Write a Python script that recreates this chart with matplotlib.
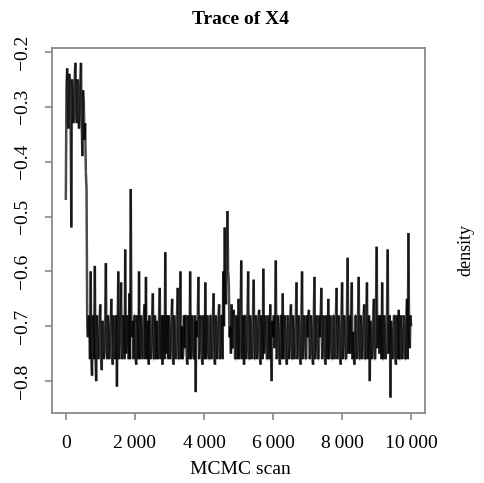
import matplotlib
matplotlib.use("Agg")
import matplotlib.pyplot as plt
from matplotlib.collections import LineCollection
import numpy as np

# MCMC trace of X4, one value every 20 scans.
# "even" lists hold scans 0, 40, 80, ...; "odd" lists hold scans 20, 60, 100, ...
scan_step = 20
burn_in_even = [-0.47, -0.23, -0.34, -0.25, -0.52, -0.27, -0.31, -0.22,
                -0.33, -0.26, -0.32, -0.22, -0.39, -0.29, -0.33, -0.45]
burn_in_odd = [-0.26, -0.33, -0.24, -0.33, -0.25, -0.33, -0.24, -0.32,
               -0.25, -0.34, -0.25, -0.33, -0.27, -0.36, -0.42, -0.70]
stationary_even = [
    -0.72, -0.69, -0.60, -0.79, -0.70, -0.59, -0.80, -0.71, -0.75, -0.66,
    -0.78, -0.70, -0.74, -0.585, -0.76, -0.70, -0.73, -0.65, -0.77, -0.71,
    -0.74, -0.81, -0.60, -0.73, -0.62, -0.75, -0.69, -0.56, -0.74, -0.70,
    -0.64, -0.45, -0.72, -0.76, -0.68, -0.77, -0.71, -0.60, -0.75, -0.70,
    -0.73, -0.66, -0.61, -0.76, -0.77, -0.70, -0.74, -0.64, -0.76, -0.71,
    -0.69, -0.75, -0.63, -0.73, -0.77, -0.68, -0.565, -0.72, -0.76, -0.70,
    -0.74, -0.65, -0.77, -0.71, -0.74, -0.63, -0.76, -0.60, -0.70, -0.75,
    -0.74, -0.68, -0.77, -0.71, -0.60, -0.75, -0.70, -0.76, -0.82, -0.72,
    -0.61, -0.74, -0.69, -0.77, -0.71, -0.62, -0.75, -0.70, -0.76, -0.68,
    -0.74, -0.64, -0.77, -0.70, -0.73, -0.66, -0.75, -0.68, -0.60, -0.52,
    -0.66, -0.49, -0.62, -0.70, -0.66, -0.74, -0.69, -0.76, -0.71, -0.65,
    -0.74, -0.58, -0.72, -0.77, -0.68, -0.74, -0.60, -0.76, -0.70, -0.73,
    -0.615, -0.76, -0.69, -0.74, -0.67, -0.77, -0.71, -0.595, -0.74, -0.69,
    -0.76, -0.70, -0.66, -0.80, -0.72, -0.74, -0.58, -0.75, -0.70, -0.77,
    -0.68, -0.64, -0.75, -0.71, -0.77, -0.69, -0.74, -0.66, -0.76, -0.71,
    -0.73, -0.62, -0.75, -0.70, -0.77, -0.60, -0.73, -0.69, -0.76, -0.72,
    -0.67, -0.75, -0.70, -0.77, -0.61, -0.74, -0.70, -0.76, -0.72, -0.63,
    -0.75, -0.69, -0.77, -0.71, -0.65, -0.74, -0.70, -0.76, -0.68, -0.74,
    -0.63, -0.75, -0.70, -0.77, -0.62, -0.73, -0.69, -0.76, -0.575, -0.72,
    -0.75, -0.62, -0.71, -0.77, -0.68, -0.74, -0.61, -0.76, -0.70, -0.73,
    -0.66, -0.76, -0.62, -0.72, -0.80, -0.70, -0.74, -0.65, -0.76, -0.555,
    -0.72, -0.75, -0.69, -0.62, -0.76, -0.71, -0.74, -0.56, -0.73, -0.83,
    -0.71, -0.75, -0.68, -0.77, -0.70, -0.67, -0.76, -0.71, -0.74, -0.69,
    -0.76, -0.65, -0.53, -0.74, -0.70,
]
stationary_odd = [
    -0.68, -0.76, -0.76, -0.68, -0.76, -0.76, -0.68, -0.76, -0.68, -0.76,
    -0.69, -0.76, -0.68, -0.75, -0.68, -0.76, -0.69, -0.76, -0.68, -0.76,
    -0.68, -0.69, -0.76, -0.68, -0.76, -0.68, -0.76, -0.75, -0.68, -0.76,
    -0.76, -0.70, -0.69, -0.68, -0.76, -0.68, -0.76, -0.76, -0.68, -0.76,
    -0.68, -0.76, -0.75, -0.69, -0.68, -0.76, -0.68, -0.76, -0.68, -0.76,
    -0.76, -0.68, -0.76, -0.68, -0.69, -0.76, -0.75, -0.68, -0.68, -0.76,
    -0.68, -0.76, -0.68, -0.76, -0.68, -0.76, -0.68, -0.76, -0.76, -0.68,
    -0.68, -0.76, -0.68, -0.76, -0.76, -0.68, -0.76, -0.68, -0.69, -0.68,
    -0.76, -0.68, -0.76, -0.68, -0.76, -0.76, -0.68, -0.76, -0.68, -0.76,
    -0.68, -0.76, -0.68, -0.76, -0.68, -0.76, -0.68, -0.76, -0.70, -0.64,
    -0.58, -0.60, -0.72, -0.75, -0.74, -0.67, -0.76, -0.68, -0.76, -0.76,
    -0.68, -0.76, -0.68, -0.68, -0.76, -0.68, -0.76, -0.68, -0.76, -0.68,
    -0.76, -0.68, -0.76, -0.68, -0.76, -0.68, -0.76, -0.75, -0.68, -0.76,
    -0.68, -0.76, -0.75, -0.69, -0.68, -0.68, -0.76, -0.68, -0.76, -0.68,
    -0.76, -0.76, -0.68, -0.76, -0.68, -0.76, -0.68, -0.76, -0.68, -0.76,
    -0.68, -0.76, -0.68, -0.76, -0.68, -0.76, -0.68, -0.76, -0.68, -0.68,
    -0.76, -0.68, -0.76, -0.68, -0.76, -0.68, -0.76, -0.68, -0.68, -0.76,
    -0.68, -0.76, -0.68, -0.76, -0.76, -0.68, -0.76, -0.68, -0.76, -0.68,
    -0.76, -0.68, -0.76, -0.68, -0.76, -0.68, -0.76, -0.68, -0.75, -0.68,
    -0.68, -0.76, -0.76, -0.68, -0.76, -0.68, -0.76, -0.68, -0.76, -0.68,
    -0.76, -0.68, -0.76, -0.68, -0.69, -0.76, -0.68, -0.76, -0.68, -0.74,
    -0.68, -0.68, -0.76, -0.76, -0.68, -0.76, -0.68, -0.75, -0.68, -0.69,
    -0.76, -0.68, -0.76, -0.68, -0.76, -0.76, -0.68, -0.76, -0.68, -0.76,
    -0.68, -0.76, -0.72, -0.68,
]
x_ticks = [0, 2000, 4000, 6000, 8000, 10000]
x_tick_labels = ["0", "2\u2009000", "4\u2009000", "6\u2009000", "8\u2009000", "10\u2009000"]
y_ticks = [-0.8, -0.7, -0.6, -0.5, -0.4, -0.3, -0.2]
y_tick_labels = ["\u22120.8", "\u22120.7", "\u22120.6", "\u22120.5", "\u22120.4", "\u22120.3", "\u22120.2"]


def interleave(even, odd):
    out = []
    for i, v in enumerate(even):
        out.append(v)
        if i < len(odd):
            out.append(odd[i])
    return out


values = np.array(interleave(burn_in_even, burn_in_odd)
                  + interleave(stationary_even, stationary_odd))
scans = np.arange(len(values)) * scan_step

plt.rcParams["font.family"] = ["Liberation Serif", "DejaVu Serif"]

fig = plt.figure(figsize=(4.84, 4.83), dpi=100)
ax = fig.add_axes([52 / 484, 1 - 413 / 483, (425 - 52) / 484, (413 - 48) / 483])

pts = np.column_stack([scans, values])
segs = np.stack([pts[:-1], pts[1:]], axis=1)
lc = LineCollection(segs, colors="black", linewidths=1.8, alpha=0.7,
                    capstyle="butt", snap=False, antialiased=True)
ax.add_collection(lc)

ax.set_xlim(-400, 10400)
ax.set_ylim(-0.858, -0.193)

ax.set_xticks(x_ticks)
ax.set_xticklabels(x_tick_labels)
ax.set_yticks(y_ticks)
ax.set_yticklabels(y_tick_labels, rotation=90, va="center")

gray = "#8a8a8a"
for sp in ax.spines.values():
    sp.set_color(gray)
    sp.set_linewidth(1.3)
ax.tick_params(axis="both", colors=gray, labelcolor="black", length=5, width=1.2,
               labelsize=14, direction="out")
ax.tick_params(axis="x", pad=11)
ax.tick_params(axis="y", pad=10)

fig.text(240 / 484, 1 - 19 / 483, "Trace of X4", ha="center", va="center",
         fontsize=14, fontweight="bold")
fig.text(240 / 484, 1 - 470 / 483, "MCMC scan", ha="center", va="center", fontsize=14)
fig.text(466 / 484, 1 - 250 / 483, "density", ha="center", va="center",
         rotation=90, fontsize=13)

fig.savefig("out.png", dpi=100)
